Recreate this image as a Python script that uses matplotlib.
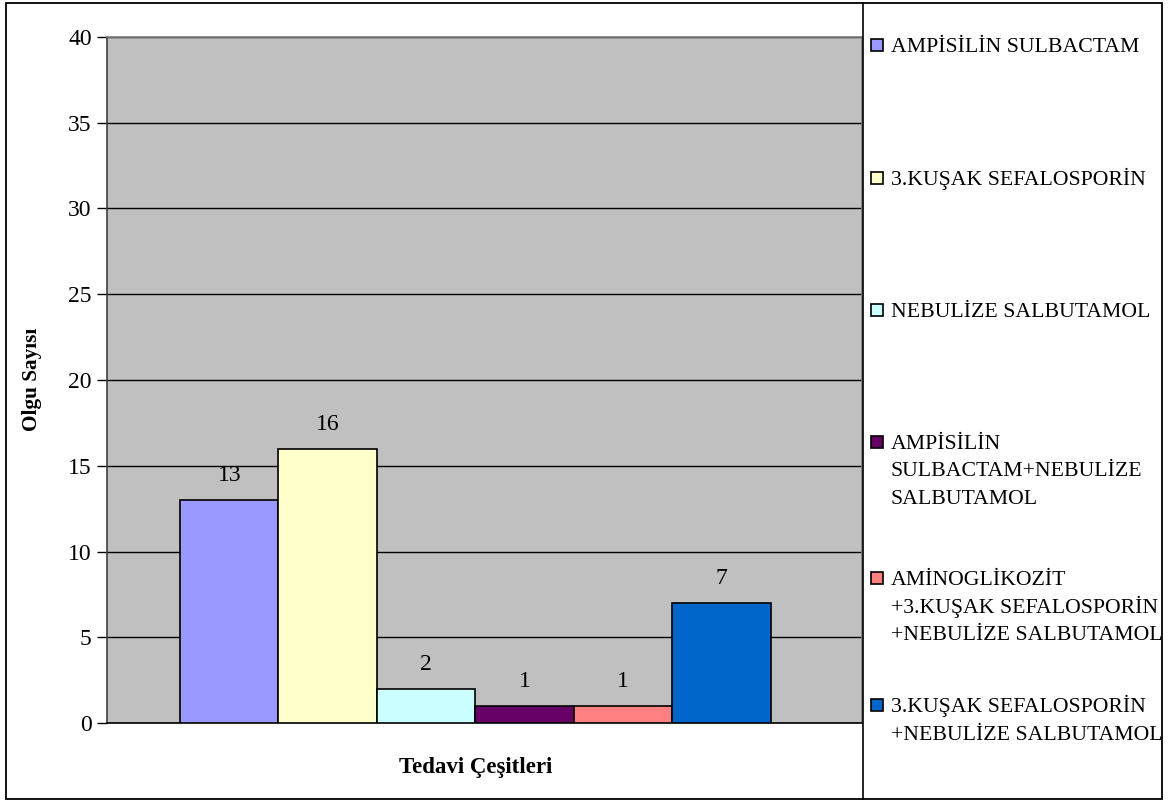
import matplotlib
matplotlib.use("Agg")
import matplotlib.pyplot as plt
from matplotlib.patches import Rectangle

plt.rcParams['font.family'] = ['Liberation Serif', 'DejaVu Serif']

treatments = [
    "AMPİSİLİN SULBACTAM",
    "3.KUŞAK SEFALOSPORİN",
    "NEBULİZE SALBUTAMOL",
    "AMPİSİLİN\nSULBACTAM+NEBULİZE\nSALBUTAMOL",
    "AMİNOGLİKOZİT\n+3.KUŞAK SEFALOSPORİN\n+NEBULİZE SALBUTAMOL",
    "3.KUŞAK SEFALOSPORİN\n+NEBULİZE SALBUTAMOL",
]
counts = [13, 16, 2, 1, 1, 7]
colors = ["#9999FF", "#FFFFCC", "#CCFFFF", "#660066", "#FF8080", "#0066CC"]
y_ticks = [0, 5, 10, 15, 20, 25, 30, 35, 40]

W, H = 1168, 801
fig = plt.figure(figsize=(W / 100, H / 100), dpi=100)
fig.patch.set_facecolor("white")

def px(x0, y0, x1, y1):
    return [x0 / W, 1 - y1 / H, (x1 - x0) / W, (y1 - y0) / H]

ax = fig.add_axes(px(107, 37, 862, 723))
ax.set_facecolor("#C0C0C0")

positions = list(range(len(counts)))
bars = ax.bar(positions, counts, width=1.0, color=colors,
              edgecolor="black", linewidth=1.2, zorder=3)
for b, v in zip(bars, counts):
    ax.annotate(str(v), (b.get_x() + b.get_width() / 2, v),
                xytext=(0, 17.5), textcoords="offset points",
                ha="center", va="center", fontsize=17)

ax.set_xlim(-1.241, 6.424)
ax.set_ylim(0, 40)
ax.set_yticks(y_ticks)
ax.set_yticklabels([str(t) for t in y_ticks], fontsize=17)
ax.set_xticks([])
ax.tick_params(axis="y", length=7, width=1, pad=4, direction="out")
ax.yaxis.grid(True, color="black", linewidth=1, zorder=0)
ax.set_axisbelow(True)
for s in ["top", "right"]:
    ax.spines[s].set_color("#808080")
    ax.spines[s].set_linewidth(1.2)
ax.spines["left"].set_color("#404040")
ax.spines["bottom"].set_color("black")
ax.spines["left"].set_linewidth(1.2)
ax.spines["bottom"].set_linewidth(1.2)

fig.text(32 / W, 1 - 379 / H, "Olgu Sayısı", rotation=90, ha="center",
         va="center", fontsize=15.3, fontweight="bold")
fig.text(476 / W, 1 - 768 / H, "Tedavi Çeşitleri", ha="center",
         va="center", fontsize=16.5, fontweight="bold")

# outer frame and legend box
fig.add_artist(Rectangle((6 / W, 1 - 799 / H), (1162 - 6) / W, (799 - 3) / H,
                         transform=fig.transFigure, fill=False,
                         edgecolor="black", linewidth=1.3))
fig.add_artist(plt.Line2D([863 / W, 863 / W], [1 - 799 / H, 1 - 3 / H],
                          transform=fig.transFigure, color="black", linewidth=1.2))

# legend entries: swatch beside the first line, lines at a fixed pitch
first_line_y = [45, 178, 310, 442, 578, 705]
line_pitch = 27.5
for label, c, y in zip(treatments, colors, first_line_y):
    fig.add_artist(Rectangle((871 / W, 1 - (y + 6) / H), 12 / W, 12 / H,
                             transform=fig.transFigure, facecolor=c,
                             edgecolor="black", linewidth=1.2))
    for k, line in enumerate(label.split("\n")):
        fig.text(891 / W, 1 - (y + 7 + k * line_pitch) / H, line,
                 ha="left", va="baseline", fontsize=15.7)

fig.savefig("out.png", dpi=100)
